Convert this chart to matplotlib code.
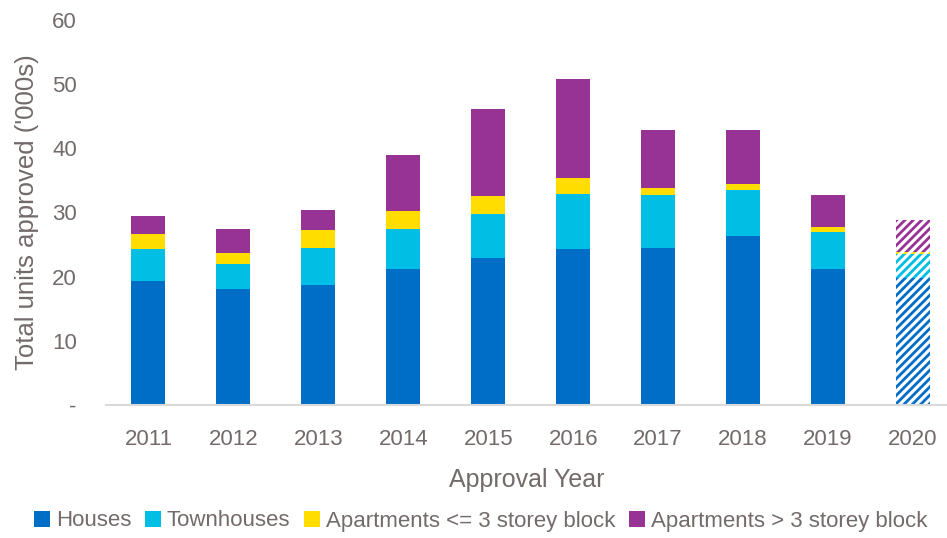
import matplotlib
matplotlib.use("Agg")
import matplotlib.pyplot as plt
import numpy as np

plt.rcParams['font.family'] = ['Liberation Sans', 'DejaVu Sans']
plt.rcParams['hatch.linewidth'] = 2.0

# data ('000s of units)
years = ['2011', '2012', '2013', '2014', '2015', '2016', '2017', '2018', '2019', '2020']
houses = [19.4, 18.1, 18.7, 21.2, 22.9, 24.3, 24.5, 26.4, 21.2, 19.8]
townhouses = [4.9, 3.9, 5.8, 6.2, 6.9, 8.6, 8.3, 7.1, 5.8, 3.7]
apts_low = [2.3, 1.7, 2.7, 2.8, 2.7, 2.5, 1.0, 0.9, 0.7, 0.4]
apts_high = [2.8, 3.8, 3.2, 8.8, 13.6, 15.4, 9.1, 8.5, 5.1, 4.9]

series = [houses, townhouses, apts_low, apts_high]
names = ['Houses', 'Townhouses', 'Apartments <= 3 storey block', 'Apartments > 3 storey block']
colors = ['#006EC7', '#00BEE4', '#FFDD00', '#973395']
txt = '#736A6A'

fig = plt.figure(figsize=(9.47, 5.38), dpi=100)
ax = fig.add_axes([106 / 947, 1 - 405 / 538, 841 / 947, 385 / 538])

x = np.arange(len(years))
n_full = len(years) - 1  # last year is partial -> hatched
bottom = np.zeros(len(years))
for vals, name, c in zip(series, names, colors):
    vals = np.array(vals)
    ax.bar(x[:n_full], vals[:n_full], 0.4, bottom=bottom[:n_full], color=c, label=name)
    ax.bar(x[n_full:], vals[n_full:], 0.4, bottom=bottom[n_full:], facecolor='white',
           edgecolor=c, hatch='////', linewidth=0)
    bottom += vals

ax.set_xlim(-0.5, 9.4)
ax.set_ylim(0, 60)
ax.set_yticks(range(0, 61, 10))
ax.set_yticklabels(['-'] + [str(v) for v in range(10, 61, 10)])
ax.set_xticks(x)
ax.set_xticklabels(years)

for s in ['top', 'right', 'left']:
    ax.spines[s].set_visible(False)
ax.spines['bottom'].set_color('#D9D9D9')
ax.spines['bottom'].set_linewidth(1.5)
ax.tick_params(axis='both', length=0, colors=txt, labelsize=16)
ax.tick_params(axis='y', pad=21)
ax.tick_params(axis='x', pad=17)

ax.set_ylabel("Total units approved ('000s)", color=txt, fontsize=18.5, labelpad=9)
ax.set_xlabel('Approval Year', color=txt, fontsize=18, labelpad=13)

leg = fig.legend(loc='center', bbox_to_anchor=(0.5 + 7 / 947, 1 - 521 / 538), ncol=4,
                 frameon=False, fontsize=16, handlelength=0.75, handleheight=0.75,
                 handletextpad=0.25, columnspacing=0.6, borderaxespad=0)
for t in leg.get_texts():
    t.set_color(txt)

fig.savefig('out.png', dpi=100)
